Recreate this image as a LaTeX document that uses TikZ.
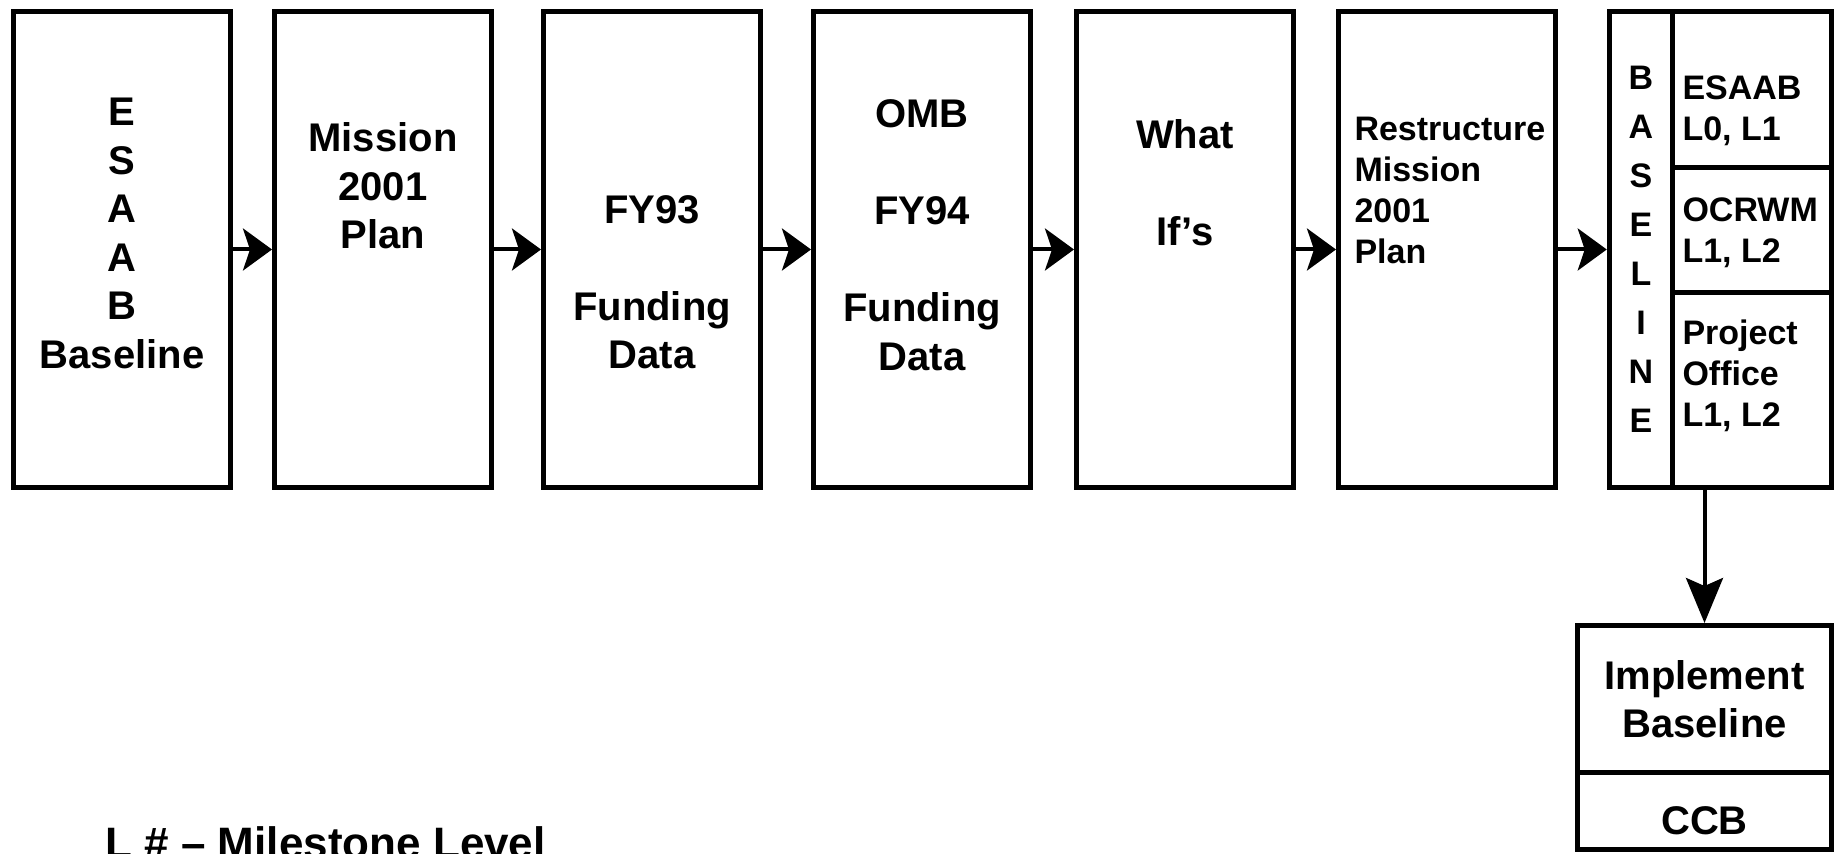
\documentclass[tikz,border=0pt]{standalone}
\usepackage{fontspec}
\setmainfont{Liberation Sans}
\usetikzlibrary{arrows.meta, positioning}
\tikzset{>={Stealth[length=14.5pt, width=21pt, inset=3.5pt]},
	box/.style={draw, rectangle, inner sep=0pt, minimum width=108.5pt, minimum height=238pt},
	cell/.style={draw, rectangle, inner sep=0pt, minimum width=79.25pt},
	big/.style={align=center, inner sep=0pt, font=\fontsize{20}{24.25}\selectfont\bfseries},
	small/.style={align=left, anchor=west, inner sep=0pt, font=\fontsize{17}{20.5}\selectfont\bfseries}}

\begin{document}
\begin{tikzpicture}[x=0.5pt, y=-0.5pt, line width=2.5pt]
	\useasboundingbox (0,0) rectangle (1837,854);
	\clip (0,0) rectangle (1837,854);
	% planning chain
	\node[box] at (122,249.5) (ESAAB Baseline) {};
	\node[box] at (383,249.5) (Mission Plan) {};
	\node[box] at (652,249.5) (FY93 Data) {};
	\node[box] at (922,249.5) (FY94 Data) {};
	\node[box] at (1185,249.5) (What Ifs) {};
	\node[box] at (1447,249.5) (Restructure) {};
	\node[big] at (122,233.5) (ESAAB Baseline text) {E\\S\\A\\A\\B\\Baseline};
	\node[big] at (383,186) (Mission Plan text) {Mission\\2001\\Plan};
	\node[big] at (652,282) (FY93 Data text) {FY93\\[24.25pt]Funding\\Data};
	\node[big] at (922,235) (FY94 Data text) {OMB\\[24.25pt]FY94\\[24.25pt]Funding\\Data};
	\node[big] at (1185,183) (What Ifs text) {What\\[24.25pt]If's};
	\node[small] at (1352,190.5) (Restructure text) {Restructure\\Mission\\2001\\Plan};
	% baseline block
	\node[cell, minimum width=31.75pt, minimum height=238pt, align=center, font=\fontsize{17}{24.5}\selectfont\bfseries] at (1641,249.5) (Baseline) {B\\A\\S\\E\\L\\I\\N\\E};
	\node[cell, minimum height=78.25pt] at (1752,89.75) (ESAAB Level) {};
	\node[cell, minimum height=62.5pt] at (1752,230.5) (OCRWM Level) {};
	\node[cell, minimum height=97.25pt] at (1752,390.25) (Office Level) {};
	\node[small] at (1680,111) (ESAAB Level text) {ESAAB\\L0, L1};
	\node[small] at (1680,233) (OCRWM Level text) {OCRWM\\L1, L2};
	\node[small] at (1680,376) (Office Level text) {Project\\Office\\L1, L2};
	% implementation
	\node[cell, big, draw, minimum width=127pt, minimum height=73.75pt] at (1704.5,699.25) (Implement) {Implement\\Baseline};
	\node[cell, big, draw, minimum width=127pt, minimum height=38.25pt, text height=23pt] at (1704.5,811.25) (CCB) {CCB};
	\node[anchor=base west, inner sep=0pt, font=\fontsize{22}{26}\selectfont\bfseries] at (103,859) (Legend) {L \# – Milestone Level};
	\draw[->, line width=2pt]
		(ESAAB Baseline) edge (Mission Plan)
		(Mission Plan) edge (FY93 Data)
		(FY93 Data) edge (FY94 Data)
		(FY94 Data) edge (What Ifs)
		(What Ifs) edge (Restructure)
		(Restructure) edge (Baseline);
	\draw[-{Stealth[length=22.5pt, width=18.5pt, inset=4pt]}, line width=2pt] (Office Level.south -| Implement.north) -- (Implement);
\end{tikzpicture}
\end{document}
